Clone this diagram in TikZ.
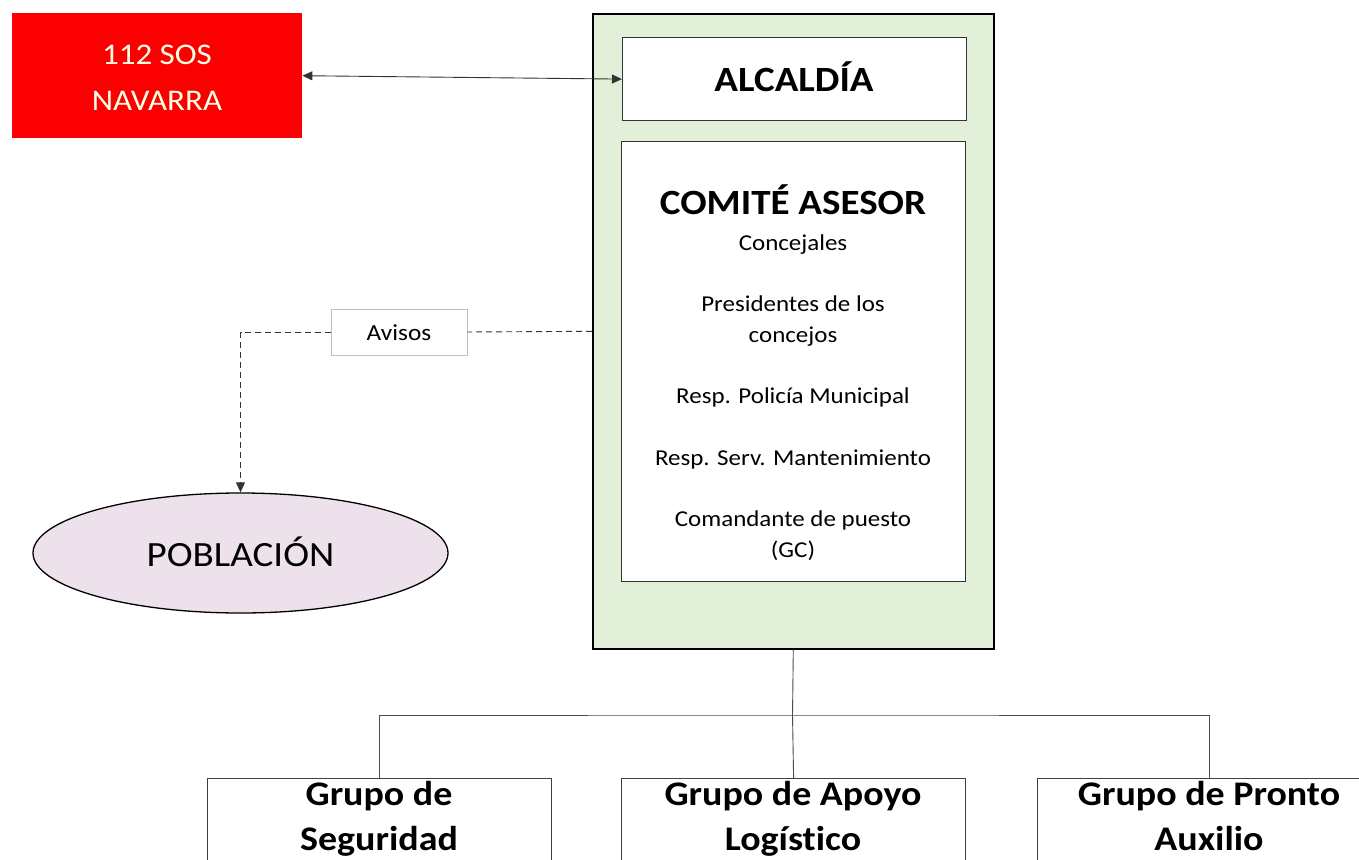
\documentclass[tikz,border=0pt]{standalone}
\usepackage{fontspec}
\setmainfont{Carlito}[FakeStretch=1.1, Ligatures=CommonOff]
\usetikzlibrary{shapes.geometric,arrows.meta}
\definecolor{sosred}{HTML}{FA0000}
\definecolor{greenfill}{HTML}{E2EFD9}
\definecolor{pinkfill}{HTML}{EDE1EC}
\definecolor{creamtext}{HTML}{FFFFE8}
\definecolor{boxline}{HTML}{333333}
\begin{document}
\begin{tikzpicture}[x=1pt,y=-1pt,
  tlbox/.style={rectangle, inner sep=0pt, anchor=north west},
  whitebox/.style={tlbox, draw=boxline, line width=1.2pt, fill=white},
  itemtext/.style={font=\fontsize{22.7}{31}\selectfont, align=center, inner sep=0pt, anchor=base},
  grouptext/.style={font=\bfseries\fontsize{34.5}{45}\selectfont, align=center, inner sep=0pt, anchor=base},
  conn/.style={line width=0.9pt, draw=black!80},
  tip/.style={-{Triangle[length=10pt,width=9pt]}},
  bothtip/.style={{Triangle[length=10pt,width=9pt]}-{Triangle[length=10pt,width=9pt]}}]
\useasboundingbox (0,0) rectangle (1359,859);
\clip (0,0) rectangle (1359,859);
\fill[white] (0,0) rectangle (1359,859);

% 112 SOS
\node[tlbox, fill=sosred, minimum width=290pt, minimum height=125pt] (sos) at (12,13) {};
\node[text=creamtext, font=\fontsize{30}{45}\selectfont, align=center, inner sep=0pt, anchor=base] (sostext) at (157,110) {112 SOS\\NAVARRA};

% main green block
\node[tlbox, draw=black, line width=1.6pt, fill=greenfill, minimum width=401pt, minimum height=635pt] (main) at (592,13) {};

% Alcaldia
\node[whitebox, minimum width=344pt, minimum height=83pt] (alc) at (622,37) {};
\node[font=\bfseries\fontsize{35.5}{44}\selectfont, inner sep=0pt, anchor=base] (alctext) at (794,92) {ALCALDÍA};

% Comite asesor
\node[whitebox, minimum width=344pt, minimum height=440pt] (com) at (621,141) {};
\node[font=\bfseries\fontsize{35.5}{44}\selectfont, inner sep=0pt, anchor=base] (comtitle) at (793,214) {COMITÉ ASESOR};
\node[itemtext] (i1) at (793,250) {Concejales};
\node[itemtext] (i2) at (793,342) {Presidentes de los\\concejos};
\node[itemtext] (i3) at (793,403) {Resp. Policía Municipal};
\node[itemtext] (i4) at (793,465) {Resp. Serv. Mantenimiento};
\node[itemtext] (i5) at (793,557) {Comandante de puesto\\(GC)};

% Poblacion
\node[ellipse, draw=black, line width=1.3pt, fill=pinkfill, minimum width=415pt, minimum height=120pt, inner sep=0pt] (pob) at (240.5,553) {};
\node[font=\fontsize{35.5}{44}\selectfont, inner sep=0pt, anchor=base] (pobtext) at (240.5,566) {POBLACIÓN};

% Avisos label
\node[rectangle, draw=black!25, line width=0.6pt, fill=white, minimum width=136pt, minimum height=46pt, inner sep=0pt] (avisos) at (399,332) {};
\node[font=\fontsize{23}{30}\selectfont, inner sep=0pt, anchor=base] (avisostext) at (399,340) {Avisos};

% connectors
\draw[conn, bothtip] (sos.east) -- (alc.west);
\draw[conn, dashed, dash pattern=on 6pt off 4pt] (main.west) -- (avisos.east);
\draw[conn, dashed, dash pattern=on 6pt off 4pt, tip] (avisos.west) -| (pob.north);

% groups
\node[whitebox, draw=black!75, minimum width=344pt, minimum height=100pt] (g1) at (207,778) {};
\node[whitebox, draw=black!75, minimum width=344pt, minimum height=100pt] (g2) at (621,778) {};
\node[whitebox, draw=black!75, minimum width=344pt, minimum height=100pt] (g3) at (1037,778) {};
\node[grouptext] (g1text) at (379,850) {Grupo de\\Seguridad};
\node[grouptext] (g2text) at (793,850) {Grupo de Apoyo\\Logístico};
\node[grouptext] (g3text) at (1209,850) {Grupo de Pronto\\Auxilio};

\coordinate (bus) at (792.5,715);
\draw[conn, draw=black!70] (main.south) -- (bus);
\draw[conn, draw=black!70] (g1.north) |- (bus) -| (g3.north);
\draw[conn, draw=black!70] (bus) -- (g2.north);
\end{tikzpicture}
\end{document}
